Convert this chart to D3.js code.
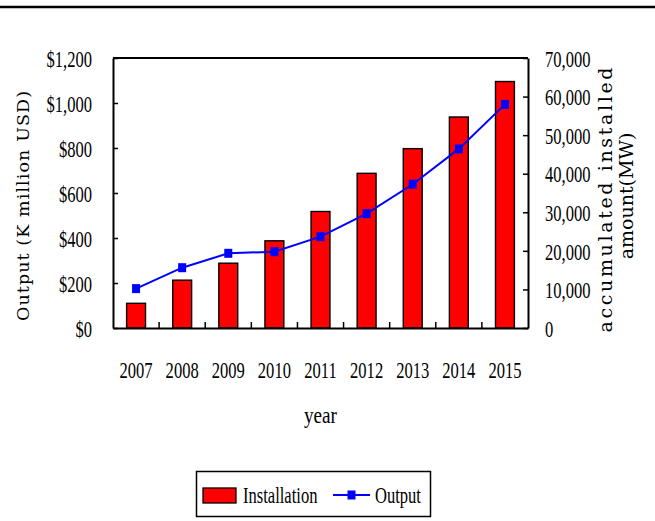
<!DOCTYPE html>
<html><head><meta charset="utf-8">
<script src="https://cdn.jsdelivr.net/npm/d3@7/dist/d3.min.js"></script>
<style>body{margin:0;background:#fff}svg{display:block}</style>
</head><body><svg id="c" width="655" height="521"></svg>
<script>
const years = ["2007","2008","2009","2010","2011","2012","2013","2014","2015"];
const installation = [6400, 12400, 16800, 22600, 30200, 40100, 46500, 54700, 63900]; // MW, right axis
const output = [175, 268, 332, 339, 406, 508, 639, 796, 994]; // $ K million, left axis
const leftTicks = [0, 200, 400, 600, 800, 1000, 1200];
const rightTicks = [0, 10000, 20000, 30000, 40000, 50000, 60000, 70000];

const svg = d3.select("#c");
const L = 113, R = 528, T = 58, B = 328;
const SX = 0.69; // horizontal condense of serif labels
const FS = 24;
const serif = "'Liberation Serif','Times New Roman',serif";

// top rule
svg.append("line").attr("x1",0).attr("x2",655).attr("y1",7).attr("y2",7)
  .attr("stroke","#000").attr("stroke-width",2.6);

const x = d3.scaleBand().domain(years).range([L,R]).paddingInner(0.59).paddingOuter(0.295);
const yL = d3.scaleLinear().domain([0,1200]).range([B,T]);
const yR = d3.scaleLinear().domain([0,70000]).range([B,T]);

// bars
svg.append("g").selectAll("rect").data(years).join("rect")
  .attr("x", d => x(d)).attr("width", x.bandwidth())
  .attr("y", (d,i) => yR(installation[i])).attr("height", (d,i) => B - yR(installation[i]))
  .attr("fill","#ff0000").attr("stroke","#000").attr("stroke-width",1.4);

// left axis (ticks inward)
const gl = svg.append("g").attr("transform",`translate(${L},0)`)
  .call(d3.axisLeft(yL).tickValues(leftTicks).tickSize(-5).tickSizeOuter(0).tickFormat(d => "$" + d3.format(",")(d)));
gl.select(".domain").attr("stroke-width",2);
gl.selectAll(".tick line").attr("stroke-width",1.5);
gl.selectAll(".tick text").attr("font-family",serif).attr("font-size",FS).attr("fill","#000")
  .attr("text-anchor","end").attr("x", -21/SX).attr("dy","0.34em").attr("transform",`scale(${SX},1)`);

// right axis
const gr = svg.append("g").attr("transform",`translate(${R},0)`)
  .call(d3.axisRight(yR).tickValues(rightTicks).tickSize(-5).tickSizeOuter(0).tickFormat(d3.format(",")));
gr.select(".domain").attr("stroke-width",2);
gr.selectAll(".tick line").attr("stroke-width",1.5);
gr.selectAll(".tick text").attr("font-family",serif).attr("font-size",FS).attr("fill","#000")
  .attr("text-anchor","start").attr("x", 17/SX).attr("dy","0.34em").attr("transform",`scale(${SX},1)`);

// top frame
svg.append("line").attr("x1",L).attr("x2",R).attr("y1",T).attr("y2",T).attr("stroke","#000").attr("stroke-width",2);

// bottom axis
const gb = svg.append("g").attr("transform",`translate(0,${B})`)
  .call(d3.axisBottom(x).tickSize(0).tickSizeOuter(0));
gb.select(".domain").attr("stroke-width",2);
gb.selectAll(".tick text").attr("font-family",serif).attr("font-size",FS).attr("fill","#000")
  .attr("y", 0).attr("dy", 50).attr("transform",`scale(${SX},1)`).attr("x", 0);
// category separator ticks (inward)
const step = x.step();
svg.append("g").selectAll("line").data(years.slice(1)).join("line")
  .attr("x1", d => x(d) - x.paddingInner()*step/2).attr("x2", d => x(d) - x.paddingInner()*step/2)
  .attr("y1", B).attr("y2", B-6).attr("stroke","#000").attr("stroke-width",1.5);

// output line
const cx = d => x(d) + x.bandwidth()/2;
const line = d3.line().x((d,i) => cx(years[i])).y(d => yL(d));
svg.append("path").datum(output).attr("d", line).attr("fill","none").attr("stroke","#0000ff").attr("stroke-width",2);
svg.append("g").selectAll("rect").data(output).join("rect")
  .attr("x",(d,i) => cx(years[i]) - 4).attr("y", d => yL(d) - 4.5)
  .attr("width",8).attr("height",9).attr("fill","#0000ff");

// axis titles
svg.append("text").attr("x",320.5/0.8).attr("y",423).attr("transform","scale(0.8,1)")
  .attr("text-anchor","middle").attr("font-family",serif).attr("font-size",FS).text("year");

svg.append("text").attr("transform","translate(29,206) rotate(-90)")
  .attr("text-anchor","middle").attr("font-family","'DejaVu Serif',serif").attr("font-size",17.5)
  .attr("textLength",230).attr("lengthAdjust","spacing").text("Output (K million USD)");

svg.append("text").attr("transform","translate(612,200) rotate(-90)")
  .attr("text-anchor","middle").attr("font-family","'DejaVu Serif',serif").attr("font-size",19)
  .attr("textLength",265).attr("lengthAdjust","spacing").text("accumulated installed");
svg.append("text").attr("transform","translate(633,196) rotate(-90)")
  .attr("text-anchor","middle").attr("font-family","'DejaVu Serif',serif").attr("font-size",19)
  .text("amount(MW)");

// legend
const lg = svg.append("g");
lg.append("rect").attr("x",196.5).attr("y",471.5).attr("width",234).attr("height",45)
  .attr("fill","#fff").attr("stroke","#000").attr("stroke-width",1.5);
lg.append("rect").attr("x",203).attr("y",488).attr("width",33).attr("height",15)
  .attr("fill","#ff0000").attr("stroke","#000").attr("stroke-width",1.3);
lg.append("text").attr("x",243/SX).attr("y",503).attr("transform",`scale(${SX},1)`)
  .attr("font-family",serif).attr("font-size",FS).text("Installation");
lg.append("line").attr("x1",333).attr("x2",370).attr("y1",495).attr("y2",495).attr("stroke","#0000ff").attr("stroke-width",2);
lg.append("rect").attr("x",347.5).attr("y",490.5).attr("width",8).attr("height",9).attr("fill","#0000ff");
lg.append("text").attr("x",375/SX).attr("y",503).attr("transform",`scale(${SX},1)`)
  .attr("font-family",serif).attr("font-size",FS).text("Output");
</script></body></html>
